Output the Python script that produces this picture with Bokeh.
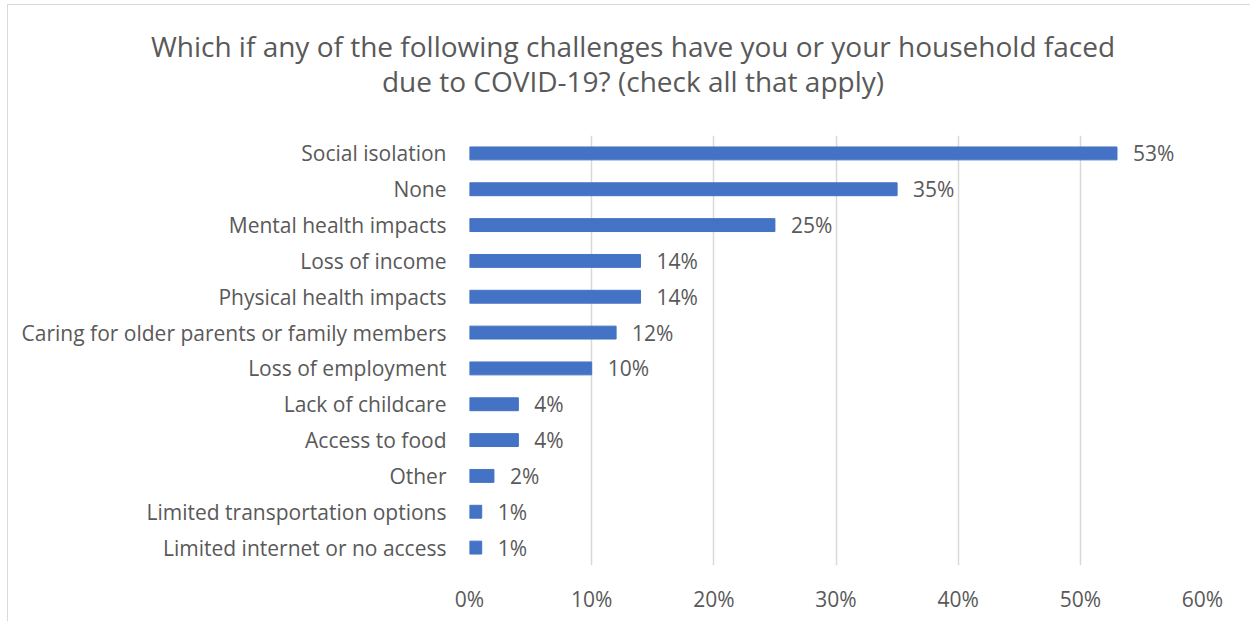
from bokeh.plotting import figure
from bokeh.models import Range1d, NumeralTickFormatter, FixedTicker, ColumnDataSource, Div
from bokeh.layouts import column
from bokeh.core.properties import value
from bokeh.embed import file_html
from bokeh.resources import INLINE

categories = [
    "Social isolation",
    "None",
    "Mental health impacts",
    "Loss of income",
    "Physical health impacts",
    "Caring for older parents or family members",
    "Loss of employment",
    "Lack of childcare",
    "Access to food",
    "Other",
    "Limited transportation options",
    "Limited internet or no access",
]
values = [0.53, 0.35, 0.25, 0.14, 0.14, 0.12, 0.10, 0.04, 0.04, 0.02, 0.01, 0.01]
value_labels = ["53%", "35%", "25%", "14%", "14%", "12%", "10%", "4%", "4%", "2%", "1%", "1%"]
x_ticks = [0, 0.1, 0.2, 0.3, 0.4, 0.5, 0.6]
title_lines = [
    "Which if any of the following challenges have you or your household faced",
    "due to COVID-19? (check all that apply)",
]

FONT = "Open Sans"
TEXT = "#595959"
W = 1240

title_div = Div(
    text=("<div style=\"margin:0;padding-top:19px;text-align:center;"
          "font-family:'Open Sans';font-size:28px;line-height:35px;color:#595959;"
          "width:%dpx;white-space:nowrap\">%s<br>%s</div>") % (W, title_lines[0], title_lines[1]),
    width=W, height=90,
)

source = ColumnDataSource(data=dict(cat=categories, val=values, lab=value_labels))

p = figure(
    width=W, height=516,
    y_range=list(reversed(categories)),
    x_range=Range1d(0, 0.6),
    output_backend="svg", toolbar_location=None,
    min_border_left=461, min_border_right=46,
    min_border_top=30, min_border_bottom=56,
)
p.outline_line_color = None
p.background_fill_color = "white"
p.border_fill_color = "white"

p.hbar(y="cat", right="val", left=0, height=0.36, source=source, color="#4472C4")
p.text(x="val", y="cat", text="lab", source=source, x_offset=16,
       text_baseline="middle", text_align="left",
       text_font=value(FONT), text_font_size="21px", text_color=TEXT)

p.xaxis.ticker = FixedTicker(ticks=x_ticks)
p.xaxis.formatter = NumeralTickFormatter(format="0%")
p.xaxis.axis_line_color = None
p.xaxis.major_tick_line_color = None
p.xaxis.minor_tick_line_color = None
p.xaxis.major_label_standoff = 13
p.xaxis.major_label_text_font = FONT
p.xaxis.major_label_text_font_size = "21px"
p.xaxis.major_label_text_color = TEXT

p.yaxis.axis_line_color = None
p.yaxis.major_tick_line_color = None
p.yaxis.minor_tick_line_color = None
p.yaxis.major_label_standoff = 17
p.yaxis.major_label_text_font = FONT
p.yaxis.major_label_text_font_size = "21px"
p.yaxis.major_label_text_color = TEXT

p.xgrid.grid_line_color = "#d9d9d9"
p.xgrid.grid_line_width = 1.5
p.ygrid.grid_line_color = None

layout = column(title_div, p, spacing=0,
                styles={"margin-left": "7px", "margin-top": "4px", "background": "white",
                        "border-left": "1px solid #d9d9d9", "border-top": "1px solid #d9d9d9"})

open("out.html", "w").write(file_html(layout, INLINE))
